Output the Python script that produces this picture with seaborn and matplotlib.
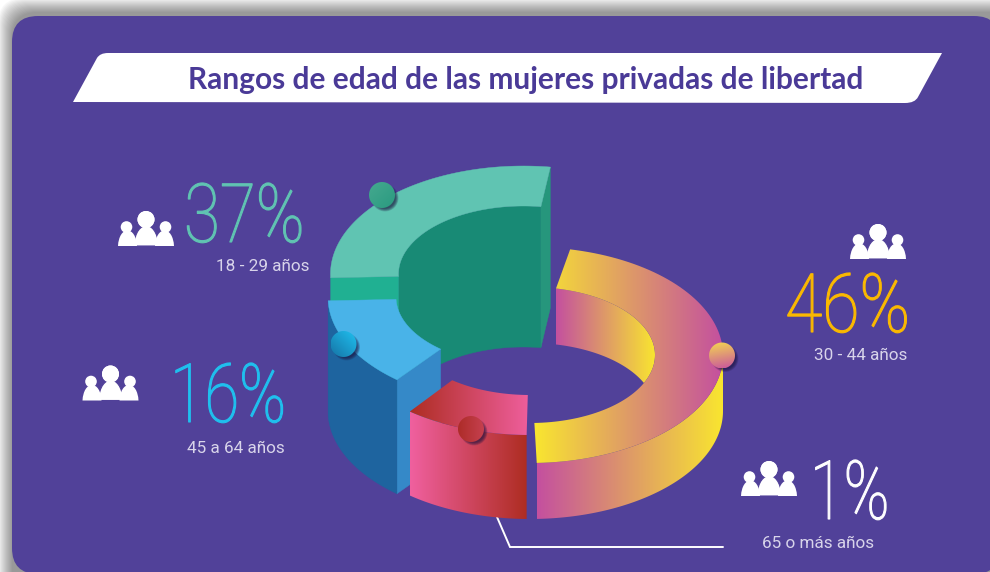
import numpy as np
import matplotlib
matplotlib.use("Agg")
import matplotlib.pyplot as plt
import matplotlib.patheffects as pe
from matplotlib.patches import Polygon, Circle, FancyBboxPatch, PathPatch
from matplotlib.path import Path
from matplotlib.transforms import Affine2D
import seaborn as sns

# --- datos ---
titulo = "Rangos de edad de las mujeres privadas de libertad"
rangos = ["18 - 29 años", "45 a 64 años", "65 o más años", "30 - 44 años"]
porcentajes = [37, 16, 1, 46]
# the drawing does not follow the percentages, so the sweep of each slice is read off the picture
grados_inicio = [82, 182, 231.5, -88]
grados_fin = [182, 230, 269, 78]

sns.set_theme(style="white")

PURPLE = "#514199"
RX_OUT, RY_OUT = 193, 108
RX_IN, RY_IN = 125, 68
H = 572

fig = plt.figure(figsize=(9.9, 5.72), dpi=100, facecolor="white")
ax = fig.add_axes([0, 0, 1, 1])
ax.set_xlim(0, 990)
ax.set_ylim(H, 0)
ax.axis("off")


class Narrow(pe.AbstractPathEffect):
    # stretches a text around its anchor and thickens it, there is no condensed font installed
    def __init__(self, x0, y0, sx, sy, lw, color):
        super().__init__()
        self.t = Affine2D().translate(-x0, -y0).scale(sx, sy).translate(x0, y0)
        self.lw, self.color = lw, color

    def draw_path(self, renderer, gc, tpath, affine, rgbFace=None):
        gc0 = renderer.new_gc()
        gc0.copy_properties(gc)
        gc0.set_linewidth(self.lw)
        gc0.set_foreground(self.color)
        renderer.draw_path(gc0, tpath, affine + self.t, rgbFace)
        gc0.restore()


def arc(cx, cy, rx, ry, t0, t1):
    t = np.radians(np.linspace(t0, t1, 90))
    return np.c_[cx + rx * np.cos(t), cy - ry * np.sin(t)]


def flat(poly, color, z):
    ax.add_patch(Polygon(poly, closed=True, fc=color, ec=color, lw=0.3, zorder=z))


def grad(poly, colors, z, angle=0.0):
    # gradient clipped to a polygon, angle 0 runs left to right
    x0, y0 = poly.min(axis=0)
    x1, y1 = poly.max(axis=0)
    xx, yy = np.meshgrid(np.linspace(0, 1, 200), np.linspace(0, 1, 200))
    a = np.radians(angle)
    g = xx * np.cos(a) + yy * np.sin(a)
    g = (g - g.min()) / (g.max() - g.min())
    cmap = sns.blend_palette(colors, as_cmap=True)
    im = ax.imshow(g, extent=[x0, x1, y1, y0], cmap=cmap, aspect="auto", zorder=z, vmin=0, vmax=1)
    clip = Polygon(poly, closed=True, fc="none", ec="none", transform=ax.transData)
    ax.add_patch(clip)
    im.set_clip_path(clip)
    ax.set_xlim(0, 990)
    ax.set_ylim(H, 0)


def ring_top(cx, cy, t0, t1):
    return np.r_[arc(cx, cy, RX_OUT, RY_OUT, t0, t1), arc(cx, cy, RX_IN, RY_IN, t1, t0)]


def wall(cx, cy, rx, ry, t0, t1, h):
    return np.r_[arc(cx, cy, rx, ry, t0, t1), arc(cx, cy + h, rx, ry, t1, t0)]


def radial(cx, cy, t, h):
    o = arc(cx, cy, RX_OUT, RY_OUT, t, t)[0]
    i = arc(cx, cy, RX_IN, RY_IN, t, t)[0]
    return np.array([o, i, i + [0, h], o + [0, h]])


def ball(x, y, colors, angle, z):
    for k in range(7):
        ax.add_patch(Circle((x + 3, y + 3), 13.5 - k * 0.5, fc="#1c1440", ec="none", alpha=0.14, zorder=z))
    t = np.radians(np.linspace(0, 360, 80))
    grad(np.c_[x + 13 * np.cos(t), y + 13 * np.sin(t)], colors, z + 0.1, angle)


def people(x, y, s=1.0):
    # icon with three figures, x y is the upper left corner
    def dome(x0, x1, top, bottom):
        m = (x0 + x1) / 2
        v = [(x0, bottom), (x0 + 0.5, top + 6), (m - 5, top), (m, top), (m + 5, top), (x1 - 0.5, top + 6), (x1, bottom), (x0, bottom)]
        c = [Path.MOVETO, Path.CURVE4, Path.CURVE4, Path.CURVE4, Path.CURVE4, Path.CURVE4, Path.CURVE4, Path.CLOSEPOLY]
        return Path([(x + a * s, y + b * s) for a, b in v], c)
    for hx, hy, r in [(8.5, 16, 5.8), (47.5, 16, 5.8), (28, 8.5, 8.5)]:
        ax.add_patch(Circle((x + hx * s, y + hy * s), r * s, fc="white", ec="none", zorder=6))
    ax.add_patch(PathPatch(dome(0, 19, 19.5, 35), fc="white", ec="none", zorder=6))
    ax.add_patch(PathPatch(dome(37, 56, 19.5, 35), fc="white", ec="none", zorder=6))
    ax.add_patch(PathPatch(dome(16, 40.5, 14.5, 35), fc="white", ec=PURPLE, lw=0.8, zorder=5.9))
    ax.add_patch(Circle((x + 28 * s, y + 8.5 * s), 8.5 * s, fc="white", ec="none", zorder=6.1))


def big_number(txt, x, y, color, sx):
    # set at 42 pt and drawn at the 59 pt of the picture
    k = 59 / 42
    ax.text(x, y, txt, color=color, fontsize=42, family="Roboto", fontweight="light", ha="left", va="baseline", zorder=7,
            path_effects=[Narrow(x, H - y, sx * k, k, 0.8, color)])


def small_label(txt, x, y):
    ax.text(x, y, txt, color="#d8d4ea", fontsize=12.3, family="Roboto", ha="right", va="baseline", zorder=7)


# panel with shadow
for k in range(15):
    ax.add_patch(FancyBboxPatch((12 - k, 12 - k), 1000 + 2 * k, 600 + 2 * k, boxstyle="round,pad=0,rounding_size=26",
                                fc="#000000", ec="none", alpha=0.032, zorder=1))
ax.add_patch(FancyBboxPatch((12, 16), 988, 558, boxstyle="round,pad=0,rounding_size=26", fc=PURPLE, ec="none", zorder=2))

# banner
banner = Path([(73, 102), (97, 58), (100, 53), (108, 53), (942, 53), (918, 97), (915, 103), (905, 103), (73, 102)],
              [Path.MOVETO, Path.LINETO, Path.CURVE3, Path.CURVE3, Path.LINETO, Path.LINETO, Path.CURVE3, Path.CURVE3, Path.CLOSEPOLY])
ax.add_patch(PathPatch(banner, fc="white", ec="none", zorder=3))
ax.text(526, 80, titulo, color="#4a3a97", fontsize=21.5, family="Lato", fontweight="bold", ha="center", va="center", zorder=4)

# green slice
cx, cy = 523.5, 274
t0, t1 = grados_inicio[0], grados_fin[0]
flat(wall(cx, cy, RX_IN, RY_IN, t0, t1, 141), "#188a75", 3.0)
flat(radial(cx, cy, t0, 141), "#26967c", 3.1)
flat(radial(cx, cy, t1, 141), "#20b092", 3.1)
flat(ring_top(cx, cy, t0, t1), "#60c4b2", 3.2)

# yellow slice
cx, cy, h = 530, 355, 56
t0, t1 = grados_inicio[3], grados_fin[3]
YEL, PNK = "#f9e62f", "#c4509f"
grad(np.r_[arc(cx, cy, RX_IN, RY_IN, t1, -24.3), arc(cx, cy + h, RX_IN, RY_IN, 24.3, t1)], [PNK, YEL], 3.3)
grad(wall(cx, cy, RX_OUT, RY_OUT, t0, 0, h), [PNK, YEL], 3.4)
grad(ring_top(cx, cy, t0, t1), [YEL, PNK], 3.5)

# blue slice
cx, cy, h = 521, 297, 114
t0, t1 = grados_inicio[1], grados_fin[1]
flat(radial(cx, cy, t1, h), "#3589c8", 3.6)
flat(wall(cx, cy, RX_OUT, RY_OUT, t0, t1, h), "#1e649f", 3.7)
flat(ring_top(cx, cy, t0, t1), "#49b3e8", 3.8)

# red slice
cx, cy, h = 530, 327, 84
t0, t1 = grados_inicio[2], grados_fin[2]
grad(wall(cx, cy, RX_OUT, RY_OUT, t0, t1, h), ["#f0609f", "#ae2d22"], 3.9)
grad(ring_top(cx, cy, t0, t1), ["#ae2d22", "#ee5e9b"], 4.0)

# balls
ball(382, 195, ["#45a98f", "#2a9a80"], 45, 4.2)
ball(343.5, 344, ["#1674a6", "#1fc1f0"], -45, 4.2)
ball(722, 355.5, ["#f5d84f", "#c9559e"], 80, 4.2)
ball(471, 429, ["#ad2c28", "#c6404f"], 0, 4.2)

# leader line
ax.plot([497, 510, 723], [517, 547, 547], color="white", lw=1.4, zorder=3.85, solid_joinstyle="miter")

# texts
big_number(f"{porcentajes[0]}%", 184, 242, "#60c4b2", 0.8)
big_number(f"{porcentajes[1]}%", 170, 422, "#1fc0ee", 0.77)
big_number(f"{porcentajes[2]}%", 810, 519, "white", 0.75)
big_number(f"{porcentajes[3]}%", 785, 332, "#fbb900", 0.83)
small_label(rangos[0], 310, 271)
small_label(rangos[1], 285, 453)
small_label(rangos[2], 874, 548)
small_label(rangos[3], 907, 360)

people(118, 211)
people(82.5, 365.5)
people(850, 224)
people(741, 461)

fig.savefig("out.png", dpi=100, facecolor="white")
